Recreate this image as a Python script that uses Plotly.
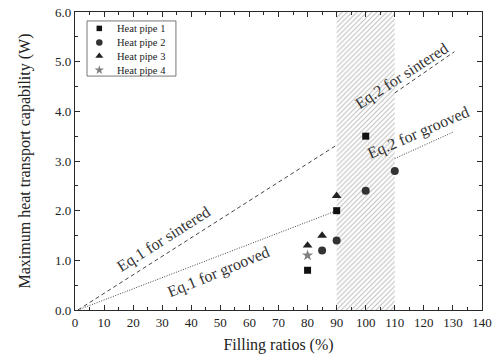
import plotly.graph_objects as go

# Measured maximum heat transport capability (W) vs. filling ratio (%)
hp1_fill = [80, 90, 100]
hp1_q = [0.8, 2.0, 3.5]
hp2_fill = [85, 90, 100, 110]
hp2_q = [1.2, 1.4, 2.4, 2.8]
hp3_fill = [80, 85, 90]
hp3_q = [1.3, 1.5, 2.3]
hp4_fill = [80]
hp4_q = [1.1]

# Model predictions (end points of each straight-line prediction)
eq1_sint_x = [1, 90]
eq1_sint_y = [0.0, 3.32]
eq1_groo_x = [1, 90]
eq1_groo_y = [0.0, 2.0]
eq2_sint_x = [110, 130.5]
eq2_sint_y = [4.37, 5.2]
eq2_groo_x = [110, 130]
eq2_groo_y = [3.05, 3.58]

# Transition band of filling ratio
band_x = [90, 110]

x_ticks = list(range(0, 141, 10))
y_ticks = [0, 1, 2, 3, 4, 5, 6]
y_tick_text = ["0.0", "1.0", "2.0", "3.0", "4.0", "5.0", "6.0"]

series = [
    ("Heat pipe 1", hp1_fill, hp1_q, "square", "#111111", 7),
    ("Heat pipe 2", hp2_fill, hp2_q, "circle", "#333333", 8),
    ("Heat pipe 3", hp3_fill, hp3_q, "triangle-up", "#222222", 8.5),
    ("Heat pipe 4", hp4_fill, hp4_q, "star", "#808080", 8.5),
]

FONT = "Liberation Serif, Times New Roman, serif"
AX = "#2a2a2a"
TXT = "#222222"

fig = go.Figure()

# hatched band
fig.add_trace(go.Scatter(
    x=[band_x[0], band_x[1], band_x[1], band_x[0], band_x[0]],
    y=[0, 0, 6, 6, 0],
    mode="lines", fill="toself", line=dict(width=0),
    fillcolor="white",
    fillpattern=dict(shape="/", fgcolor="#808080", bgcolor="white",
                     size=3.5, solidity=0.3),
    hoverinfo="skip", showlegend=False,
))

# prediction lines
for xs, ys, dash in [
    (eq1_sint_x, eq1_sint_y, "4px,3px"),
    (eq2_sint_x, eq2_sint_y, "4px,3px"),
    (eq1_groo_x, eq1_groo_y, "1px,1.5px"),
    (eq2_groo_x, eq2_groo_y, "1px,1.5px"),
]:
    fig.add_trace(go.Scatter(x=xs, y=ys, mode="lines",
                             line=dict(color="#444444", width=1, dash=dash),
                             showlegend=False, hoverinfo="skip"))

# measured points
for name, xs, ys, sym, col, sz in series:
    fig.add_trace(go.Scatter(x=xs, y=ys, mode="markers", name=name,
                             marker=dict(symbol=sym, color=col, size=sz),
                             showlegend=False))

# legend drawn on an overlay axis spanning the plot area
leg_rows = [0.945, 0.898, 0.852, 0.805]
for (name, xs, ys, sym, col, sz), ry in zip(series, leg_rows):
    fig.add_trace(go.Scatter(x=[0.0597], y=[ry], mode="markers",
                             xaxis="x2", yaxis="y2",
                             marker=dict(symbol=sym, color=col, size=sz - 1.5),
                             showlegend=False, hoverinfo="skip"))
    fig.add_annotation(x=0.098, y=ry, xref="paper", yref="paper",
                       text=name, showarrow=False, xanchor="left",
                       yanchor="middle",
                       font=dict(family=FONT, size=10.5, color=TXT))
fig.add_shape(type="rect", xref="paper", yref="paper",
              x0=0.0295, x1=0.248, y0=0.785, y1=0.970,
              line=dict(color="#555", width=0.8))

# equation labels
labels = [
    ("Eq.1 for sintered", 30.6, 1.43, -32.5),
    ("Eq.1 for grooved", 49.5, 0.77, -22.5),
    ("Eq.2 for sintered", 112.4, 4.72, -33),
    ("Eq.2 for grooved", 118.0, 3.57, -23.5),
]
for txt, lx, ly, ang in labels:
    fig.add_annotation(x=lx, y=ly, text=txt, showarrow=False,
                       textangle=ang,
                       font=dict(family=FONT, size=16, color="#333"))

axis_common = dict(
    showgrid=False, zeroline=False, showline=True, linecolor=AX,
    linewidth=1.2, mirror="allticks", ticks="inside", ticklen=5,
    tickwidth=1, tickcolor=AX, automargin=False,
    tickfont=dict(family=FONT, size=13, color=TXT),
)

fig.update_layout(
    width=497, height=359,
    margin=dict(l=75, r=15, t=12, b=49),
    paper_bgcolor="white", plot_bgcolor="white",
    showlegend=False,
    xaxis=dict(range=[0, 140], tickvals=x_ticks,
               minor=dict(dtick=5, ticks="inside", ticklen=3,
                          tickcolor=AX, tickwidth=1),
               title=dict(text="Filling ratios (%)", standoff=10,
                          font=dict(family=FONT, size=16, color=TXT)),
               **axis_common),
    yaxis=dict(range=[0, 6], tickvals=y_ticks, ticktext=y_tick_text,
               minor=dict(dtick=0.5, ticks="inside", ticklen=3,
                          tickcolor=AX, tickwidth=1),
               title=dict(text="Maximum heat transport capability (W)",
                          standoff=20,
                          font=dict(family=FONT, size=16, color=TXT)),
               **axis_common),
    xaxis2=dict(overlaying="x", range=[0, 1], visible=False,
                fixedrange=True),
    yaxis2=dict(overlaying="y", range=[0, 1], visible=False,
                fixedrange=True),
)

fig.write_html("out.html")
